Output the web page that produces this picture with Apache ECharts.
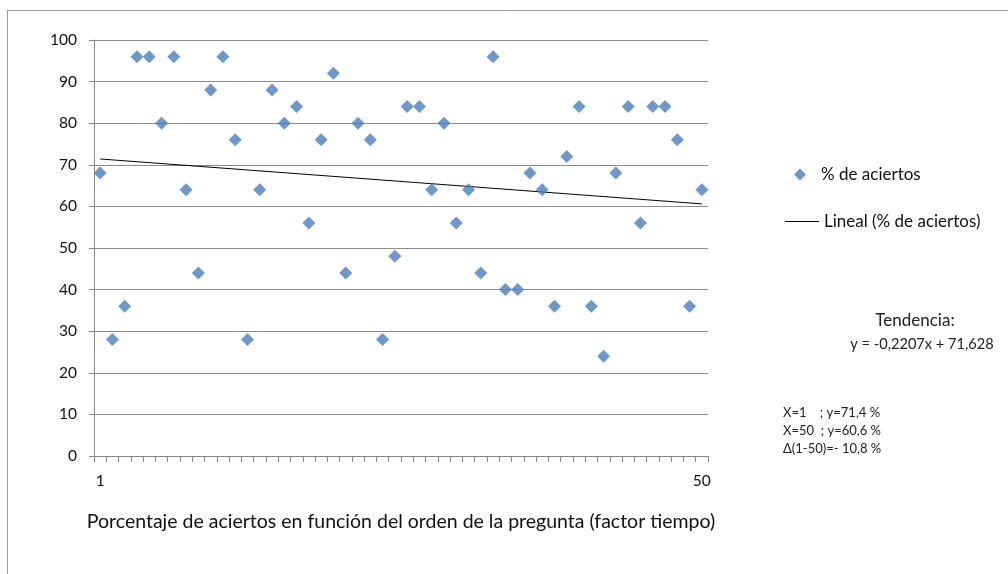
<!DOCTYPE html>
<html>
<head>
<meta charset="utf-8">
<script src="https://cdn.jsdelivr.net/npm/echarts@6/dist/echarts.min.js"></script>
<style>
html,body{margin:0;padding:0;background:#fff;}
#chart{width:1008px;height:574px;}
</style>
</head>
<body>
<div id="chart"></div>
<script>
const categories = ['1','2','3','4','5','6','7','8','9','10','11','12','13','14','15','16','17','18','19','20','21','22','23','24','25','26','27','28','29','30','31','32','33','34','35','36','37','38','39','40','41','42','43','44','45','46','47','48','49','50'];
const aciertos = [68,28,36,96,96,80,96,64,44,88,96,76,28,64,88,80,84,56,76,92,44,80,76,28,48,84,84,64,80,56,64,44,96,40,40,68,64,36,72,84,36,24,68,84,56,84,84,76,36,64];
const trendX = ['1','50'];
const trendY = [71.4, 60.6];
const yTicks = [0,10,20,30,40,50,60,70,80,90,100];
const seriesNames = ['% de aciertos','Lineal (% de aciertos)'];
const xAxisTitle = 'Porcentaje de aciertos en función del orden de la pregunta (factor tiempo)';
const noteTitle = 'Tendencia:';
const noteEq = 'y = -0,2207x + 71,628';
const noteLines = ['X=1    ; y=71,4 %','X=50  ; y=60,6 %','\u0394(1-50)=- 10,8 %'];

const FONT = 'Lato';
const chart = echarts.init(document.getElementById('chart'));
const scatterData = categories.map((c,i)=>[c, aciertos[i]]);
const trendData = trendX.map((c,i)=>[c, trendY[i]]);

chart.setOption({
  animation:false,
  backgroundColor:'#fff',
  textStyle:{fontFamily:FONT},
  grid:{left:94, right:300, top:40, bottom:118, containLabel:false},
  legend:[
    {data:[{name:seriesNames[0], icon:'diamond'}], orient:'vertical', left:789, top:161,
     itemWidth:12, itemHeight:12, textStyle:{fontFamily:FONT,fontSize:17,color:'#111',padding:[0,0,0,10]}},
    {data:[{name:seriesNames[1], icon:'rect', itemStyle:{color:'#000'}}], orient:'vertical', left:780, top:208,
     itemWidth:34, itemHeight:1, textStyle:{fontFamily:FONT,fontSize:17,color:'#111'}}
  ],
  xAxis:{
    type:'category', data:categories, boundaryGap:true,
    name:xAxisTitle, nameLocation:'middle', nameGap:56,
    nameTextStyle:{fontFamily:FONT,fontSize:19.5,color:'#111'},
    axisLine:{lineStyle:{color:'#868686',width:1}},
    axisTick:{show:true, interval:0, length:6, alignWithLabel:false, lineStyle:{color:'#868686'}},
    axisLabel:{interval:function(i){return i===0||i===categories.length-1;}, margin:17,
      fontFamily:FONT,fontSize:15.5,color:'#111'},
    splitLine:{show:false}
  },
  yAxis:{
    type:'value', min:yTicks[0], max:yTicks[yTicks.length-1], interval:yTicks[1]-yTicks[0],
    axisLine:{show:true, lineStyle:{color:'#868686',width:1}},
    axisTick:{show:true, length:5, lineStyle:{color:'#868686'}},
    axisLabel:{margin:17, fontFamily:FONT, fontSize:15.5, color:'#111'},
    splitLine:{show:true, lineStyle:{color:'#8c8c8c', width:1}}
  },
  series:[
    {name:seriesNames[0], type:'scatter', data:scatterData, symbol:'diamond', symbolSize:[13,13],
     itemStyle:{color:'#4A7EBB'}, z:3},
    {name:seriesNames[1], type:'line', data:trendData, showSymbol:false, symbol:'none',
     lineStyle:{color:'#000', width:1}, itemStyle:{color:'#000'}, z:2}
  ],
  graphic:[
    {type:'line', shape:{x1:7,y1:10.5,x2:1008,y2:10.5}, style:{stroke:'#9a9a9a',lineWidth:1}, silent:true},
    {type:'line', shape:{x1:7.5,y1:10,x2:7.5,y2:574}, style:{stroke:'#9a9a9a',lineWidth:1}, silent:true},
    {type:'text', x:915, y:321, style:{text:noteTitle, fontFamily:FONT, fontSize:17, fill:'#222', align:'center', verticalAlign:'middle'}},
    {type:'text', x:922, y:344, style:{text:noteEq, fontFamily:FONT, fontSize:14.6, fill:'#222', align:'center', verticalAlign:'middle'}},
    {type:'text', x:783, y:413, style:{text:noteLines[0], fontFamily:FONT, fontSize:13, fill:'#222', align:'left', verticalAlign:'middle'}},
    {type:'text', x:783, y:431, style:{text:noteLines[1], fontFamily:FONT, fontSize:13, fill:'#222', align:'left', verticalAlign:'middle'}},
    {type:'text', x:783, y:449, style:{text:noteLines[2], fontFamily:FONT, fontSize:13, fill:'#222', align:'left', verticalAlign:'middle'}}
  ]
});
</script>
</body>
</html>
